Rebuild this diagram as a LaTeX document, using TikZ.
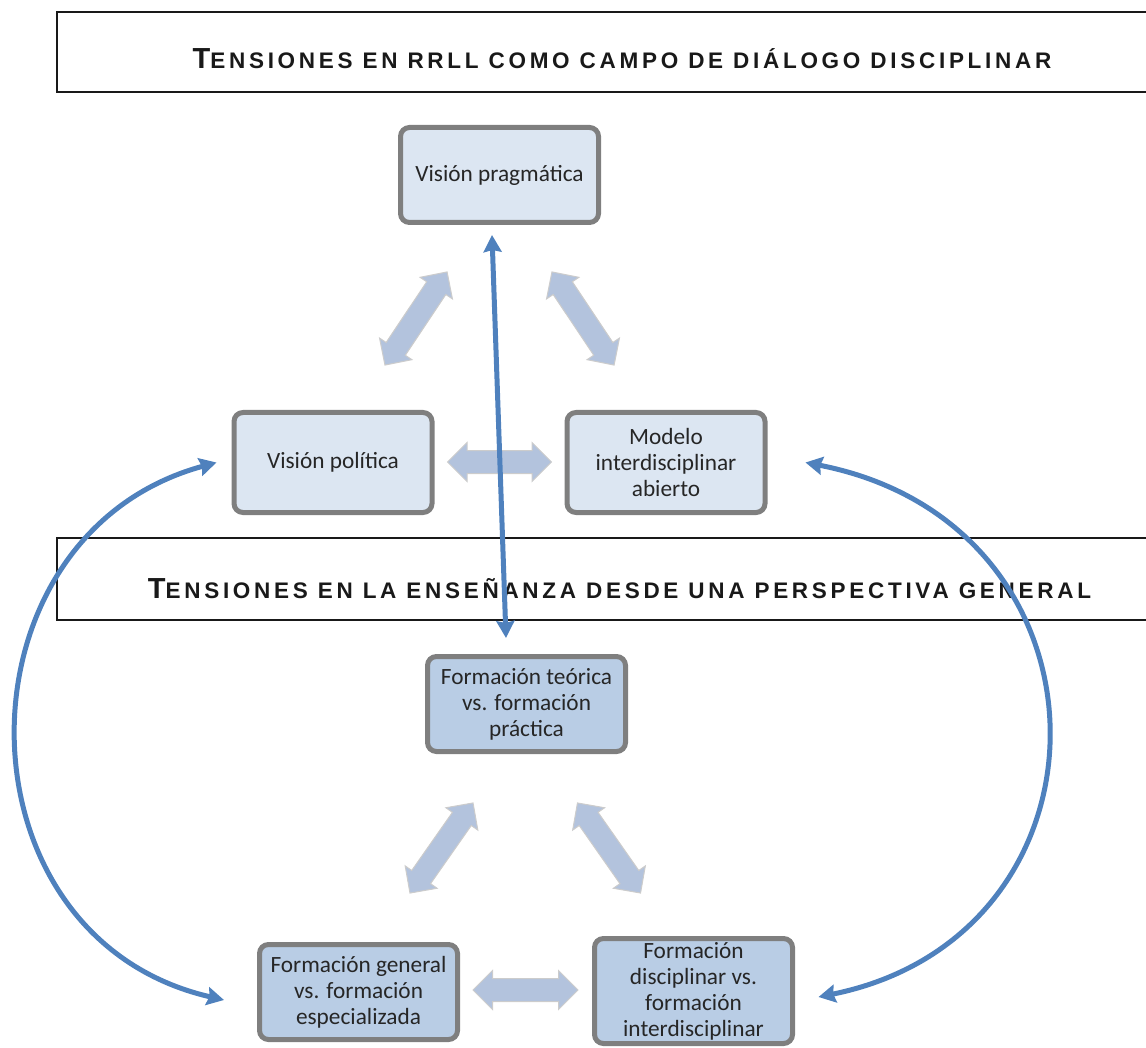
\documentclass[tikz,border=0pt]{standalone}
\usepackage{fontspec}
\setmainfont{Carlito}
\newfontfamily\titlefont{Liberation Sans}[LetterSpace=16.5]
\usepackage{tikz}
\usetikzlibrary{
	arrows.meta,
	shapes.arrows,
	positioning,
	}
\definecolor{boxgray}{HTML}{7F7F7F}
\definecolor{paleblue}{HTML}{DCE6F2}
\definecolor{midblue}{HTML}{B9CDE5}
\definecolor{fatblue}{HTML}{B3C3DD}
\definecolor{lineblue}{HTML}{4F81BD}
\definecolor{inkgray}{HTML}{262626}
\newcommand{\capstitle}[2]{{\fontsize{29}{29}\selectfont #1}{\fontsize{22.5}{22.5}\selectfont #2}}

\begin{document}
\begin{tikzpicture}[x=1pt,y=-1pt,
	dialogbox/.style={draw=boxgray, line width=5pt, rounded corners=9pt, fill=paleblue,
		minimum width=198pt, minimum height=95pt, align=center, text=inkgray,
		font=\fontsize{23.3}{26}\selectfont},
	teachbox/.style={dialogbox, fill=midblue},
	fatarrow/.style={double arrow, draw=black!20, fill=fatblue, line width=1pt,
		inner xsep=0pt, inner ysep=11pt, double arrow head extend=8pt,
		minimum height=#1},
	bluelink/.style={draw=lineblue, line width=5pt,
		{Stealth[length=17pt,width=18pt,inset=2pt]}-{Stealth[length=17pt,width=18pt,inset=2pt]}},
	titleframe/.style={draw=black!90, line width=2.2pt},
	]
	\useasboundingbox (0,0) rectangle (1146,1048);

	% titulos
	\draw[titleframe] (1146,12) -- (57,12) -- (57,92) -- (1146,92);
	\node[anchor=base, text=black!90] (t1) at (622,69)
		{\titlefont\bfseries\capstitle{T}{ENSIONES EN RRLL COMO CAMPO DE DIÁLOGO DISCIPLINAR}};
	\draw[titleframe] (1146,538) -- (57,538) -- (57,620) -- (1146,620);
	\node[anchor=base, text=black!90] (t2) at (619.5,598)
		{\titlefont\bfseries\capstitle{T}{ENSIONES EN LA ENSEÑANZA DESDE UNA PERSPECTIVA GENERAL}};

	% campo de dialogo
	\node[dialogbox] (vp) at (499.5,175) {Visión pragmática};
	\node[dialogbox, minimum height=100pt] (vpol) at (333,462.5) {Visión política};
	\node[dialogbox, minimum height=100pt] (mia) at (666,462.5) {Modelo\\interdisciplinar\\abierto};

	% enseñanza
	\node[teachbox] (fteo) at (526.5,704) {Formación teórica\\vs. formación\\práctica};
	\node[teachbox] (fgen) at (358.5,992) {Formación general\\vs. formación\\especializada};
	\node[teachbox, minimum height=105pt] (fdis) at (693.5,991) {Formación\\disciplinar vs.\\formación\\interdisciplinar};

	% flechas gruesas
	\node[fatarrow=112pt, rotate=56.3] (a1) at (416,318.5) {};
	\node[fatarrow=112pt, rotate=-56.3] (a2) at (583,318.5) {};
	\node[fatarrow=104pt] (a3) at (499.5,462) {};
	\node[fatarrow=110pt, rotate=55] (a4) at (441.5,848) {};
	\node[fatarrow=110pt, rotate=-55] (a5) at (609,848) {};
	\node[fatarrow=105pt] (a6) at (525.5,990) {};

	% enlaces
	\draw[bluelink] ([xshift=-20.5pt, yshift=16pt]fteo.north) -- ([xshift=-7.5pt, yshift=-10pt]vp.south);
	\draw[bluelink] ([xshift=-15pt]vpol.west) .. controls (-50,535) and (-50,937) .. ([xshift=-33pt, yshift=-8pt]fgen.west);
	\draw[bluelink] ([xshift=38pt]mia.east) .. controls (1125,525) and (1125,935) .. ([xshift=23.5pt, yshift=-6pt]fdis.east);
\end{tikzpicture}
\end{document}
